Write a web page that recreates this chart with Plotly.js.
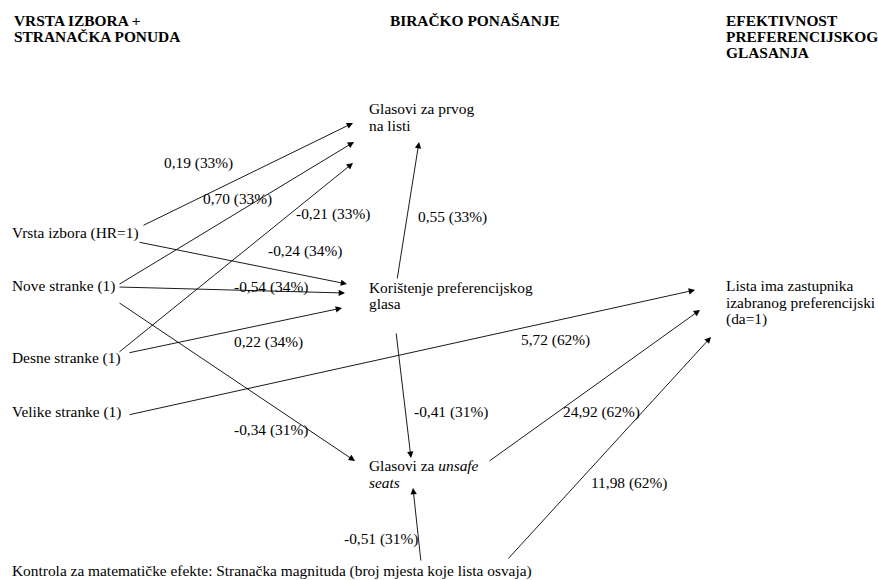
<!DOCTYPE html>
<html>
<head>
<meta charset="utf-8">
<script src="https://cdn.plot.ly/plotly-3.0.1.min.js"></script>
<style>
html,body{margin:0;padding:0;background:#fff;}
#chart{width:878px;height:580px;}
</style>
</head>
<body>
<div id="chart"></div>
<script>
// ---- data ----
const headerLabels = [
  ["VRSTA IZBORA +", "STRANAČKA PONUDA"],
  ["BIRAČKO PONAŠANJE"],
  ["EFEKTIVNOST", "PREFERENCIJSKOG", "GLASANJA"]
];
const nodeNames = ["vrsta", "nove", "desne", "velike", "prvog", "koris", "unsafe", "lista", "kontrola"];
const nodeLabels = [
  ["Vrsta izbora (HR=1)"],
  ["Nove stranke (1)"],
  ["Desne stranke (1)"],
  ["Velike stranke (1)"],
  ["Glasovi za prvog", "na listi"],
  ["Korištenje preferencijskog", "glasa"],
  ["Glasovi za <i>unsafe</i>", "<i>seats</i>"],
  ["Lista ima zastupnika", "izabranog preferencijski", "(da=1)"],
  ["Kontrola za matematičke efekte: Stranačka magnituda (broj mjesta koje lista osvaja)"]
];
const edgeFrom = ["vrsta", "nove", "desne", "vrsta", "nove", "desne", "nove", "velike", "koris", "koris", "unsafe", "kontrola", "kontrola"];
const edgeTo   = ["prvog", "prvog", "prvog", "koris", "koris", "koris", "unsafe", "lista", "prvog", "unsafe", "lista", "lista", "unsafe"];
const coefficients = [0.19, 0.70, -0.21, -0.24, -0.54, 0.22, -0.34, 5.72, 0.55, -0.41, 24.92, 11.98, -0.51];
const sharePct =     [33, 33, 33, 34, 34, 34, 31, 62, 33, 31, 62, 62, 31];

// ---- layout geometry (pixel space of the 878x580 canvas) ----
const headerPos = [[12, 20], [388, 20], [724, 20]];
const headerLineStep = 16;
const nodePos = [[10, 233], [10, 286], [10, 358], [10, 412], [367, 108], [367, 287], [367, 465], [724, 285], [10, 571]];
const nodeLineStep = [16, 16, 16, 16, 17, 16, 17, 17, 16];
const edgeTail = [[142,226],[118,285],[118,353],[138,242],[118,287],[128,353],[118,302],[128,415],[397,280],[396,332],[488,462],[507,560],[421,562]];
const edgeHead = [[353,123],[354,142],[353,163],[347,284],[345,293],[342,308],[355,461],[695,290],[419,142],[411,458],[700,310],[711,337],[413,488]];
const labelPos = [[198,163],[237,199],[333,214],[305,251],[271,287],[268,342],[271,430],[555,340],[452,217],[451,412],[601,412],[629,483],[381,539]];

const FONT = "Liberation Serif";
const FSIZE = 15.4;
const annotations = [];

headerLabels.forEach((lines, i) => {
  lines.forEach((t, j) => {
    annotations.push({
      x: headerPos[i][0], y: headerPos[i][1] + j * headerLineStep, xref: "x", yref: "y",
      text: "<b>" + t + "</b>", showarrow: false, xanchor: "left", yanchor: "middle",
      font: {family: FONT, size: FSIZE, color: "#000"}
    });
  });
});

nodeLabels.forEach((lines, i) => {
  lines.forEach((t, j) => {
    annotations.push({
      x: nodePos[i][0], y: nodePos[i][1] + j * nodeLineStep[i], xref: "x", yref: "y",
      text: t, showarrow: false, xanchor: "left", yanchor: "middle",
      font: {family: FONT, size: FSIZE, color: "#000"}
    });
  });
});

function fmt(v) { return v.toFixed(2).replace(".", ","); }

edgeFrom.forEach((f, i) => {
  annotations.push({
    x: edgeHead[i][0], y: edgeHead[i][1], ax: edgeTail[i][0], ay: edgeTail[i][1],
    xref: "x", yref: "y", axref: "x", ayref: "y",
    text: "", showarrow: true, arrowhead: 2, arrowsize: 1.4, arrowwidth: 0.9, arrowcolor: "#000"
  });
  annotations.push({
    x: labelPos[i][0], y: labelPos[i][1], xref: "x", yref: "y",
    text: fmt(coefficients[i]) + " (" + sharePct[i] + "%)", showarrow: false,
    xanchor: "center", yanchor: "middle",
    font: {family: FONT, size: FSIZE, color: "#000"}
  });
});

const trace = {x: [], y: [], type: "scatter", mode: "markers", hoverinfo: "skip", showlegend: false};

const layout = {
  width: 878, height: 580,
  margin: {l: 0, r: 0, t: 0, b: 0},
  paper_bgcolor: "#fff", plot_bgcolor: "#fff",
  font: {family: FONT, size: FSIZE, color: "#000"},
  xaxis: {range: [0, 878], visible: false, fixedrange: true},
  yaxis: {range: [580, 0], visible: false, fixedrange: true},
  annotations: annotations,
  showlegend: false
};

Plotly.newPlot("chart", [trace], layout, {staticPlot: true, displayModeBar: false});
</script>
</body>
</html>
